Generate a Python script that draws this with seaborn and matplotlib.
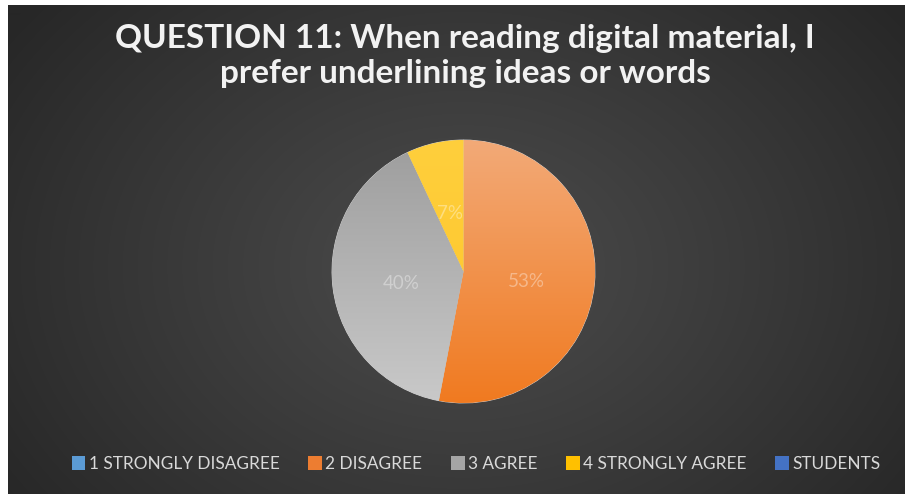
import numpy as np
import matplotlib
matplotlib.use("Agg")
import matplotlib.pyplot as plt
from matplotlib.colors import to_rgb
from matplotlib.patches import Patch
import seaborn as sns

# ---- data -------------------------------------------------------------
title = "QUESTION 11: When reading digital material, I\nprefer underlining ideas or words"
categories = ["1 STRONGLY DISAGREE", "2 DISAGREE", "3 AGREE", "4 STRONGLY AGREE"]
shares = [0, 53, 40, 7]
series_name = "STUDENTS"

# ---- styling ----------------------------------------------------------
sns.set_theme(style="dark")
plt.rcParams["font.family"] = ["Lato", "DejaVu Sans"]

palette = sns.color_palette(["#5b9bd5", "#ed7d31", "#a5a5a5", "#ffc000"])
series_color = "#4472c4"
# (top, bottom) colours of the vertical gradient inside each slice
slice_grad = [("#8fbde6", "#4a8bc8"),
              ("#f3aa78", "#f07a20"),
              ("#9d9d9d", "#c9c9c9"),
              ("#ffcf3c", "#fdc52a")]

W_PX, H_PX = 905, 494
fig = plt.figure(figsize=(W_PX / 100, H_PX / 100), dpi=100, facecolor="white")

# dark panel with a soft radial gradient
px0, py0 = 8, 5
pw, ph = W_PX - px0, H_PX - py0
bg = fig.add_axes([px0 / W_PX, 0, pw / W_PX, ph / H_PX])
yy, xx = np.mgrid[0:ph, 0:pw]
cx, cy = 455, 262
d = np.sqrt(((xx - cx) / (pw * 0.62)) ** 2 + ((yy - cy) / (ph * 0.85)) ** 2)
d = np.clip(d, 0, 1) ** 1.1
inner = np.array(to_rgb("#4b4b4b"))
outer = np.array(to_rgb("#272727"))
img = inner[None, None, :] * (1 - d[..., None]) + outer[None, None, :] * d[..., None]
bg.imshow(img, aspect="auto", interpolation="bilinear")
bg.set_axis_off()

# pie
cxp, cyp, r = 463.5, 271.5, 131.5
ax = fig.add_axes([(cxp - r) / W_PX, (H_PX - cyp - r) / H_PX, 2 * r / W_PX, 2 * r / H_PX])
ax.set_facecolor("none")


def pct_label(p):
    return f"{p:.0f}%" if p > 0.5 else ""


wedges, _, autotexts = ax.pie(
    shares, colors=palette, startangle=90, counterclock=False,
    autopct=pct_label, pctdistance=0.48,
    wedgeprops=dict(linewidth=0.6, edgecolor="#d4d4d4"),
    textprops=dict(color="white", alpha=0.36, fontsize=13.5),
)

ramp = np.linspace(0, 1, 256)[:, None, None]
for w, val, (top, bot) in zip(wedges, shares, slice_grad):
    if val <= 0:
        continue
    t, b = np.array(to_rgb(top)), np.array(to_rgb(bot))
    grad = t[None, None, :] * (1 - ramp) + b[None, None, :] * ramp
    grad = np.repeat(grad, 2, axis=1)
    im = ax.imshow(grad, extent=(-1, 1, -1, 1), origin="upper",
                   aspect="auto", interpolation="bilinear", zorder=1.5)
    im.set_clip_path(w)
for t in autotexts:
    x, y = t.get_position()
    t.set_position((x, y - 0.03))
    t.set_zorder(4)
ax.set_xlim(-1, 1)
ax.set_ylim(-1, 1)
ax.set_axis_off()

# title
fig.text(465 / W_PX, 1 - 56 / H_PX, title, ha="center", va="center",
         fontsize=24, fontweight="bold", color="#f2f2f2", linespacing=1.28)

# legend
handles = [Patch(facecolor=c, edgecolor="none") for c in palette]
handles.append(Patch(facecolor=series_color, edgecolor="none"))
labels = categories + [series_name]
leg = fig.legend(handles, labels, ncol=5, loc="center",
                 bbox_to_anchor=(476 / W_PX, 1 - 464 / H_PX),
                 frameon=False, fontsize=12.4, handlelength=0.8, handleheight=0.8,
                 handletextpad=0.2, columnspacing=1.65)
for txt in leg.get_texts():
    txt.set_color("#d9d9d9")

fig.savefig("out.png", dpi=100, facecolor=fig.get_facecolor())
